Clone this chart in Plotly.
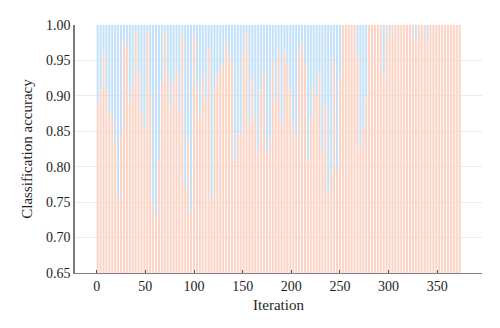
import plotly.graph_objects as go

# Classification accuracy recorded every third iteration
iterations = [3 * i + 1 for i in range(125)]
accuracy = [
    0.890, 0.909, 0.961, 0.909, 0.876, 0.871, 0.833, 0.756, 0.849, 0.980,
    0.966, 0.895, 0.914, 0.990, 0.933, 0.876, 0.852, 0.990, 0.904, 0.747,
    0.728, 0.811, 0.918, 0.990, 0.928, 0.885, 0.921, 0.938, 0.876, 0.985,
    0.771, 0.837, 0.737, 0.985, 0.914, 0.871, 0.928, 0.895, 0.966, 0.754,
    0.914, 0.930, 0.935, 0.945, 0.973, 0.959, 0.947, 0.809, 0.847, 0.849,
    0.961, 0.990, 0.861, 0.928, 0.868, 0.823, 0.909, 0.935, 0.823, 0.837,
    0.949, 0.895, 0.961, 0.861, 0.964, 0.945, 0.909, 0.861, 0.840, 0.961,
    0.973, 0.945, 0.809, 0.868, 0.914, 0.899, 0.933, 0.821, 0.887, 0.766,
    0.794, 0.949, 0.794, 0.926, 1.000, 1.000, 1.000, 1.000, 1.000, 0.959,
    0.828, 0.856, 0.899, 1.000, 1.000, 1.000, 1.000, 1.000, 0.930, 1.000,
    0.983, 1.000, 1.000, 1.000, 1.000, 1.000, 1.000, 1.000, 1.000, 0.980,
    1.000, 1.000, 1.000, 0.980, 1.000, 1.000, 1.000, 1.000, 1.000, 1.000,
    1.000, 1.000, 1.000, 1.000, 1.000,
]
y_floor = 0.65
y_ceil = 1.00
y_ticks = [0.65, 0.70, 0.75, 0.80, 0.85, 0.90, 0.95, 1.00]
x_ticks = [0, 50, 100, 150, 200, 250, 300, 350]

SALMON = "rgb(252,212,198)"
BLUE = "rgb(195,225,249)"

fig = go.Figure()
fig.add_trace(go.Bar(
    x=iterations,
    y=[a - y_floor for a in accuracy],
    base=y_floor,
    width=2.1,
    marker=dict(color=SALMON, line=dict(width=0)),
    name="Correct",
))
fig.add_trace(go.Bar(
    x=iterations,
    y=[y_ceil - a for a in accuracy],
    base=accuracy,
    width=2.1,
    marker=dict(color=BLUE, line=dict(width=0)),
    name="Error",
))

fig.update_layout(
    width=500,
    height=328,
    margin=dict(l=75, r=18, t=25, b=55),
    barmode="overlay",
    showlegend=False,
    plot_bgcolor="white",
    paper_bgcolor="white",
    font=dict(family="Liberation Serif, Times New Roman, serif", size=14, color="#1e1e1e"),
)
fig.update_xaxes(
    range=[-22.3, 396],
    tickmode="array",
    tickvals=x_ticks,
    ticks="inside",
    ticklen=3,
    tickcolor="#555",
    showline=True,
    linecolor="#808080",
    linewidth=1.3,
    showgrid=False,
    zeroline=False,
    title=dict(text="Iteration", font=dict(size=15), standoff=6),
)
fig.update_yaxes(
    range=[y_floor, y_ceil],
    tickmode="array",
    tickvals=y_ticks,
    tickformat=".2f",
    ticks="",
    showline=True,
    linecolor="#7a7a7a",
    linewidth=1.6,
    showgrid=True,
    gridcolor="#ececec",
    gridwidth=1,
    zeroline=False,
    title=dict(text="Classification accuracy", font=dict(size=15), standoff=10),
)

fig.write_html("out.html")
